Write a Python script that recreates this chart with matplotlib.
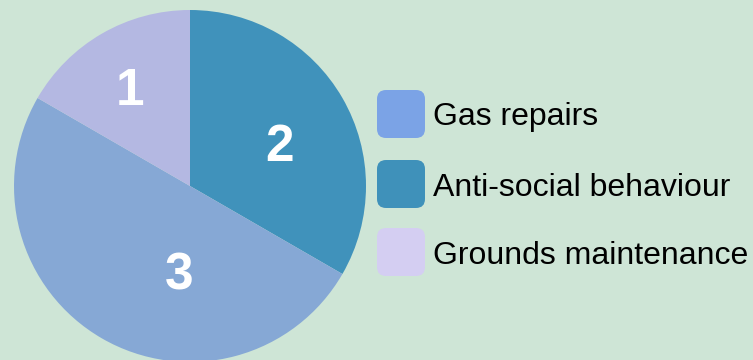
import matplotlib.pyplot as plt
from matplotlib.patches import FancyBboxPatch

# slices, drawn clockwise from 12 o'clock
slice_labels = ["Anti-social behaviour", "Gas repairs", "Grounds maintenance"]
slice_values = [2, 3, 1]
slice_colors = ["#4092bb", "#86a8d5", "#b4b8e2"]

# legend entries (own order + own swatch colours)
legend_labels = ["Gas repairs", "Anti-social behaviour", "Grounds maintenance"]
legend_colors = ["#7ba3e6", "#3f91ba", "#d4cef2"]

# where the number sits inside each slice (fraction of radius)
label_pos = [(0.51, 0.25), (-0.06, -0.48), (-0.34, 0.57)]

bg = "#cee5d6"
W, H = 753, 360
fig = plt.figure(figsize=(W / 100, H / 100), dpi=100)
fig.patch.set_facecolor(bg)
plt.rcParams['font.family'] = ['Liberation Sans', 'DejaVu Sans']

cx, cy, r = 190, 186, 176
ax = fig.add_axes([(cx - r) / W, (H - cy - r) / H, 2 * r / W, 2 * r / H])
ax.set_facecolor(bg)
wedges, _ = ax.pie(slice_values, colors=slice_colors, startangle=90, counterclock=False,
                   radius=1, wedgeprops=dict(linewidth=0))
ax.set_xlim(-1, 1)
ax.set_ylim(-1, 1)
ax.set_aspect('equal')
ax.axis('off')

for v, (x, y) in zip(slice_values, label_pos):
    ax.text(x, y, str(v), color="white", fontsize=37, fontweight="bold",
            ha="center", va="center_baseline")

# legend drawn by hand with rounded swatches
tops = [90, 160, 228]
for lab, col, top in zip(legend_labels, legend_colors, tops):
    box = FancyBboxPatch((377 / W, (H - top - 48) / H), 48 / W, 48 / H,
                         boxstyle="round,pad=0,rounding_size=0.012",
                         transform=fig.transFigure, facecolor=col, edgecolor="none",
                         mutation_aspect=W / H)
    fig.patches.append(box)
    fig.text(433 / W, (H - top - 24) / H, lab, fontsize=23, color="black",
             ha="left", va="center_baseline")

fig.savefig("out.png", dpi=100, facecolor=bg)
